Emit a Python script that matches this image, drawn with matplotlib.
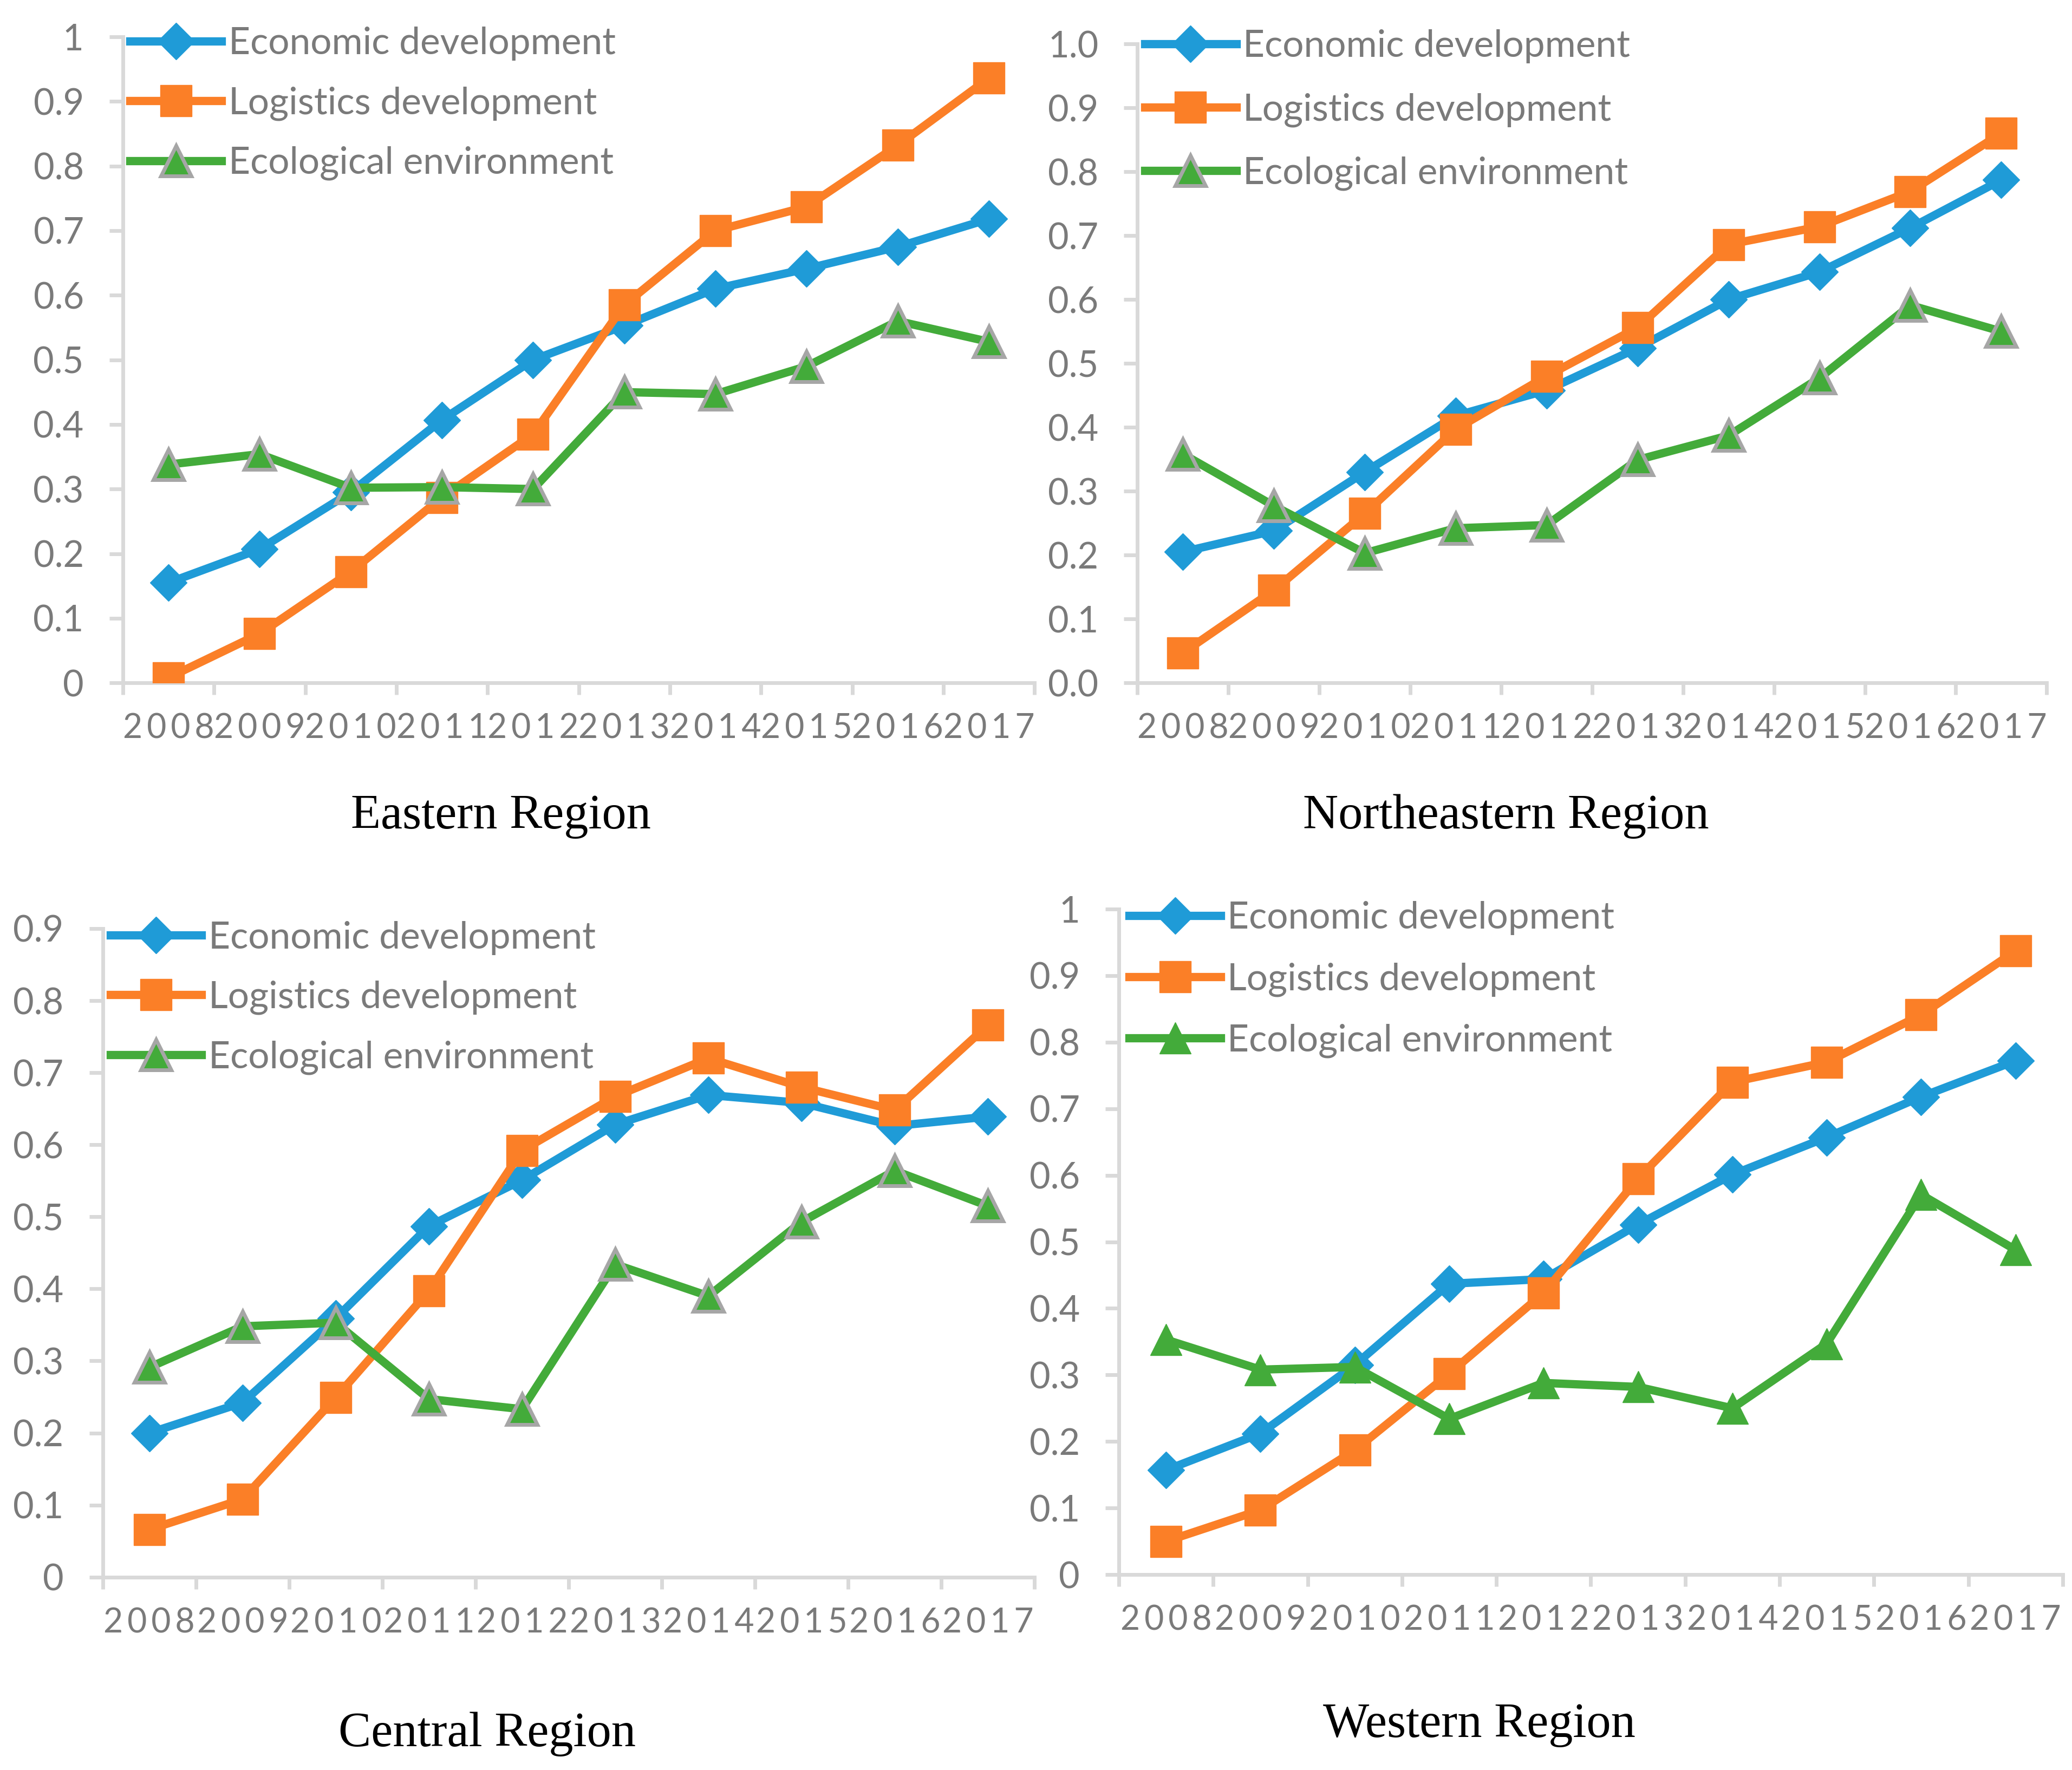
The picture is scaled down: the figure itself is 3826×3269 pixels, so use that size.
import numpy as np
import matplotlib
matplotlib.use('Agg')
import matplotlib.pyplot as plt

years = ['2008', '2009', '2010', '2011', '2012', '2013', '2014', '2015', '2016', '2017']
series_names = ['Economic development', 'Logistics development', 'Ecological environment']

east_econ = [0.155, 0.207, 0.295, 0.407, 0.500, 0.553, 0.610, 0.641, 0.675, 0.718]
east_logi = [0.008, 0.076, 0.172, 0.287, 0.385, 0.585, 0.700, 0.737, 0.832, 0.936]
east_eco = [0.338, 0.354, 0.302, 0.303, 0.300, 0.450, 0.447, 0.490, 0.560, 0.528]

ne_econ = [0.205, 0.238, 0.330, 0.418, 0.458, 0.524, 0.600, 0.643, 0.712, 0.787]
ne_logi = [0.047, 0.145, 0.265, 0.397, 0.480, 0.556, 0.686, 0.714, 0.769, 0.860]
ne_eco = [0.358, 0.277, 0.203, 0.242, 0.247, 0.349, 0.387, 0.477, 0.591, 0.550]

cen_econ = [0.200, 0.242, 0.359, 0.487, 0.551, 0.628, 0.669, 0.658, 0.626, 0.639]
cen_logi = [0.066, 0.108, 0.249, 0.397, 0.592, 0.667, 0.720, 0.680, 0.648, 0.766]
cen_eco = [0.291, 0.348, 0.353, 0.247, 0.233, 0.434, 0.390, 0.493, 0.564, 0.515]

west_econ = [0.157, 0.212, 0.315, 0.437, 0.444, 0.526, 0.601, 0.657, 0.718, 0.772]
west_logi = [0.050, 0.097, 0.187, 0.302, 0.423, 0.595, 0.740, 0.770, 0.841, 0.937]
west_eco = [0.353, 0.308, 0.312, 0.234, 0.288, 0.282, 0.250, 0.347, 0.571, 0.488]

titles = ['Eastern Region', 'Northeastern Region', 'Central Region', 'Western Region']

BLUE = '#1f9bd7'
ORANGE = '#fb7f27'
GREEN = '#43ab3a'
GRID = '#d9d9d9'
TXT = '#7a7a7a'

fig = plt.figure(figsize=(38.26, 32.69), dpi=100)
plt.rcParams['font.family'] = ['Lato', 'DejaVu Sans']


def panel(rect, econ, logi, eco, ymax, yfmt, title, title_xy, tri_edge, leg_anchor, lspace):
    ax = fig.add_axes(rect)
    x = np.arange(len(years)) + 0.5
    ax.plot(x, econ, color=BLUE, lw=11, marker='D', ms=35, mec=BLUE, mfc=BLUE,
            label=series_names[0], zorder=3)
    ax.plot(x, logi, color=ORANGE, lw=11, marker='s', ms=42, mec=ORANGE, mfc=ORANGE,
            label=series_names[1], zorder=4)
    if tri_edge:
        ax.plot(x, eco, color=GREEN, lw=11, marker='^', ms=40, mec='#a6a6a6', mew=5,
                mfc=GREEN, label=series_names[2], zorder=5)
    else:
        ax.plot(x, eco, color=GREEN, lw=11, marker='^', ms=42, mec=GREEN, mfc=GREEN,
                label=series_names[2], zorder=5)
    ax.set_xlim(0, len(years))
    ax.set_ylim(0, ymax)
    ax.set_xticks(np.arange(len(years) + 1))
    ax.set_xticklabels([])
    ax.set_xticks(x, minor=True)
    ax.set_xticklabels(['\u2009'.join(y) for y in years], minor=True)
    ax.tick_params(axis='x', which='minor', length=0, pad=40, labelsize=45, colors=TXT)
    ax.tick_params(axis='x', which='major', length=16, width=5, color=GRID)
    yt = np.round(np.arange(0, ymax + 0.001, 0.1), 1)
    ax.set_yticks(yt)
    ax.set_yticklabels([yfmt(v) for v in yt])
    ax.tick_params(axis='y', length=18, width=5, color=GRID, labelsize=48,
                   labelcolor=TXT, pad=34)
    for s in ['top', 'right']:
        ax.spines[s].set_visible(False)
    for s in ['left', 'bottom']:
        ax.spines[s].set_color(GRID)
        ax.spines[s].set_linewidth(5)
    leg = ax.legend(loc='upper left', bbox_to_anchor=leg_anchor, frameon=False,
                    fontsize=50, handlelength=2.43, handletextpad=0.18,
                    labelspacing=lspace, borderaxespad=0, borderpad=0)
    for t in leg.get_texts():
        t.set_color(TXT)
    fig.text(title_xy[0], title_xy[1], title, ha='center', va='center',
             fontsize=65, family='Liberation Serif', color='black')
    return ax


def fmt_plain(v):
    return '0' if v == 0 else ('1' if v == 1 else '%.1f' % v)


def fmt_one(v):
    return '%.1f' % v


panel([0.0593, 0.6142, 0.440, 0.365], east_econ, east_logi, east_eco, 1.0, fmt_plain,
      titles[0], (375 / 1552, 1 - 618 / 1340), True, (0.008, 1.016), 0.68)
panel([0.549, 0.6142, 0.4388, 0.361], ne_econ, ne_logi, ne_eco, 1.0, fmt_one,
      titles[1], (1128 / 1552, 1 - 618 / 1340), True, (0.008, 1.023), 0.78)
panel([0.0496, 0.109, 0.4497, 0.3664], cen_econ, cen_logi, cen_eco, 0.9, fmt_plain,
      titles[2], (365 / 1552, 1 - 1313 / 1340), True, (0.008, 1.012), 0.68)
panel([0.540, 0.1104, 0.4555, 0.376], west_econ, west_logi, west_eco, 1.0, fmt_plain,
      titles[3], (1108 / 1552, 1 - 1306 / 1340), False, (0.011, 1.012), 0.72)

fig.savefig('out.png', dpi=100)
